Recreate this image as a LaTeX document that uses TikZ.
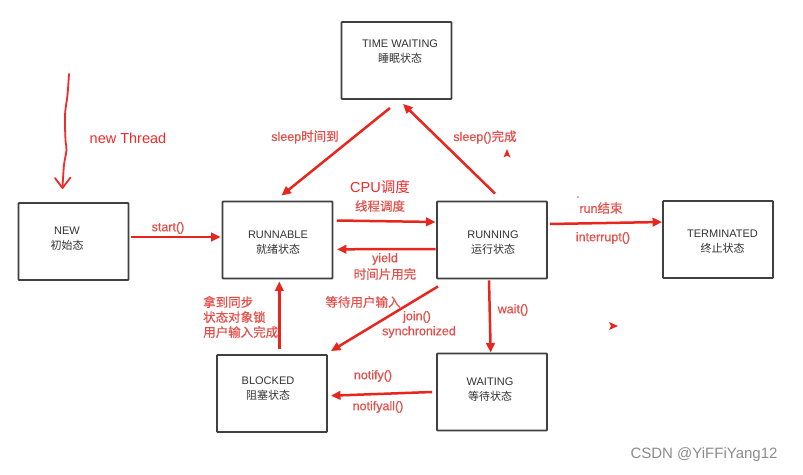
\documentclass[tikz,border=0pt]{standalone}
\usepackage{fontspec}
\setmainfont{Liberation Sans}
\newfontfamily\cjk{Noto Sans CJK SC}
\newfontfamily\labsans[FakeBold=0.6]{Liberation Sans}
\newfontfamily\lcjk[FakeBold=0.6]{Noto Sans CJK SC}
\usetikzlibrary{arrows.meta}
\definecolor{arrc}{HTML}{E8261E}
\definecolor{labc}{HTML}{E4514A}
\definecolor{handc}{HTML}{F42A2A}
\definecolor{boxc}{HTML}{404040}
\definecolor{txtc}{HTML}{333333}
\definecolor{wmc}{HTML}{8C8C8C}
\begin{document}
\begin{tikzpicture}[x=1pt,y=-1pt,
  box/.style={draw=boxc, line width=1.9pt, rounded corners=0.8pt, minimum width=110pt, minimum height=77pt, inner sep=0pt},
  boxtext/.style={text=txtc, align=center, font=\fontsize{11}{15}\selectfont, inner sep=0pt},
  lab/.style={text=labc, font=\labsans\fontsize{12.5}{15}\selectfont, inner sep=0pt},
  handlab/.style={text=handc, font=\fontsize{14.5}{17}\selectfont, inner sep=0pt},
  arr/.style={draw=arrc, line width=2.5pt, -{Triangle[length=9.5pt,width=8.5pt]}},
  hand/.style={draw=handc, line width=1.8pt, line cap=round, line join=round}]
\useasboundingbox (0,0) rectangle (803,474);
\fill[white] (0,0) rectangle (803,474);

% boxes
\node[box] (tw) at (396.5,60.5) {};
\node[box] (new) at (73.5,241.5) {};
\node[box] (rnb) at (277.5,240) {};
\node[box] (rng) at (492,240) {};
\node[box] (term) at (718,239.5) {};
\node[box] (blk) at (272,393.5) {};
\node[box] (wt) at (492,392) {};

% box texts
\node[boxtext] (twt) at (400,51.5) {TIME WAITING\\{\cjk 睡眠状态}};
\node[boxtext] (newt) at (67,238.5) {NEW\\{\cjk 初始态}};
\node[boxtext] (rnbt) at (278,243) {RUNNABLE\\{\cjk 就绪状态}};
\node[boxtext] (rngt) at (493,243) {RUNNING\\{\cjk 运行状态}};
\node[boxtext] (termt) at (722.5,242) {TERMINATED\\{\cjk 终止状态}};
\node[boxtext] (blkt) at (268,388.5) {BLOCKED\\{\cjk 阻塞状态}};
\node[boxtext] (wtt) at (490,390) {WAITING\\{\cjk 等待状态}};

% new Thread hand-drawn arrow
\coordinate (nt1) at (69,74);
\coordinate (nt2) at (62.5,188);
\draw[hand] plot[smooth, tension=0.6] coordinates {(nt1) (67.5,95) (65,115) (65.5,140) (66.5,150) (64,165) (nt2)};
\draw[hand] (55,178) .. controls (59,183) .. (nt2) .. controls (66,182) .. (70.5,177.5);
\node[handlab] (ntl) at (128,138) {new Thread};

% arrows
\draw[arr] ([shift={(1.5,-4.5)}]new.east) -- ([shift={(-1,-3)}]rnb.west);
\node[lab] (startl) at (168,228) {start()};

\draw[arr] ([shift={(3.5,-19.5)}]rnb.east) -- ([shift={(-0.5,-18)}]rng.west);
\node[handlab] (cpul) at (380,187) {CPU{\cjk 调度}};
\node[lab] (xcl) at (380,206) {\lcjk 线程调度};

\draw[arr] ([shift={(-0.5,9)}]rng.west) -- ([shift={(3.5,9.3)}]rnb.east);
\node[lab] (yl) at (385,259) {yield};
\node[lab] (sjl) at (385,274) {\lcjk 时间片用完};

\draw[arr] ([shift={(2,-16)}]rng.east) -- ([shift={(0,-17.5)}]term.west);
\node[lab] (runl) at (601,208) {run{\lcjk 结束}};
\node[lab] (intl) at (603,238) {interrupt()};
\fill[labc] (578,197) circle (0.9);

\draw[arr] ([shift={(-6.5,8)}]tw.south) -- ([shift={(4,-5)}]rnb.north);
\node[lab] (sl1) at (305,137) {sleep{\lcjk 时间到}};

\draw[arr] ([shift={(3,-7)}]rng.north) -- ([shift={(6.5,4)}]tw.south);
\node[lab] (sl2) at (485,137) {sleep(){\lcjk 完成}};
\fill[arrc] (503.5,157.5) -- (507,149) -- (510.5,157.5) -- (507,155.5) -- cycle;

\draw[arr] ([shift={(-54,7)}]rng.south) -- ([shift={(3,-3)}]blk.north east);
\node[lab] (ddl) at (363,302) {\lcjk 等待用户输入};
\node[lab] (jnl) at (417,317) {join()};
\node[lab] (synl) at (419,332) {synchronized};

\draw[arr] ([shift={(7.3,-5)}]blk.north) -- ([shift={(1.8,2)}]rnb.south);
\node[lab, align=left, anchor=west] (ndl) at (203,317) {\lcjk 拿到同步\\\lcjk 状态对象锁\\\lcjk 用户输入完成};

\draw[arr] ([shift={(-3,1)}]rng.south) -- ([shift={(-1.3,0)}]wt.north);
\node[lab] (wl) at (513,310) {wait()};

\draw[arr] ([shift={(-4,0)}]wt.west) -- ([shift={(3,2.2)}]blk.east);
\node[lab] (nfl) at (373,376) {notify()};
\node[lab] (nfal) at (378,407) {notifyall()};

\fill[arrc] (609,322) -- (618,326) -- (609,330) -- (611,326) -- cycle;

% watermark
\node[text=wmc, font=\fontsize{15}{17}\selectfont, inner sep=0pt] (wm) at (704,455) {CSDN @YiFFiYang12};
\end{tikzpicture}
\end{document}
